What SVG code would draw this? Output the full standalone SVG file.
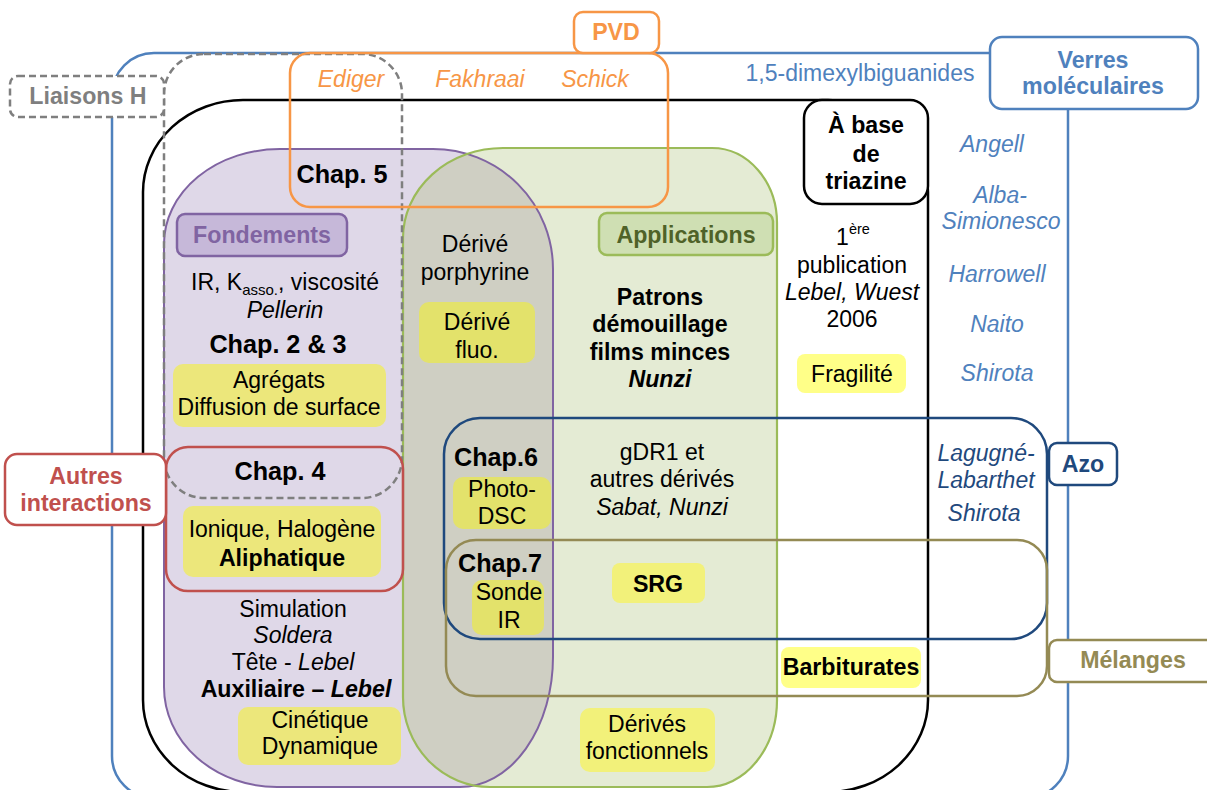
<svg xmlns="http://www.w3.org/2000/svg" width="1207" height="790" viewBox="0 0 1207 790">
  <defs>
    <style>
      text { font-family: "Liberation Sans", Arial, sans-serif; font-size: 23px; fill: #000; text-anchor: middle; }
      .b { font-weight: bold; font-size: 23.2px; }
      .i { font-style: italic; }
      .lbl { font-weight: bold; font-size: 23.2px; }
      .chap { font-weight: bold; font-size: 25.2px; }
      .reg { fill: none; stroke-width: 2.5; }
      .tag { fill: #fff; stroke-width: 2.5; }
      .yp { fill: #ece77b; }
      .yo { fill: #e3e26b; }
      .yg { fill: #f2f17a; }
      .yw { fill: #ffff88; }
      .blue { fill: #4f81bd; }
      .dblue { fill: #1f497d; }
      .orange { fill: #f79646; }
    </style>
    <path id="purpleShape" d="M 280 149 H 433 A 120 120 0 0 1 553 269 V 657 A 93 130 0 0 1 460 787 H 277 A 113 100 0 0 1 164 687 V 244 A 116 95 0 0 1 280 149 Z"/>
    <path id="greenShape" d="M 503 148 H 712 A 65 75 0 0 1 777 223 V 700 A 70 87 0 0 1 707 787 H 490 A 87 90 0 0 1 403 697 V 238 A 100 90 0 0 1 503 148 Z"/>
    <clipPath id="purpleClip"><use href="#purpleShape"/></clipPath>
  </defs>

  <rect width="1207" height="790" fill="#fff"/>

  <!-- outer families -->
  <g id="verres-region">
    <rect class="reg" x="112" y="53" width="956" height="745" rx="42" stroke="#4f81bd"/>
  </g>
  <g id="triazine-region">
    <rect class="reg" x="143" y="100" width="785" height="692" rx="100" ry="92" stroke="#000"/>
  </g>

  <!-- Fondements / Applications areas -->
  <g id="fondements-region">
    <use href="#purpleShape" fill="#dfd8e8"/>
  </g>
  <g id="applications-region">
    <use href="#greenShape" fill="#e4ebd4"/>
    <use href="#greenShape" fill="#cfcfc3" clip-path="url(#purpleClip)"/>
    <use href="#purpleShape" fill="none" stroke="#8064a2" stroke-width="2"/>
    <use href="#greenShape" fill="none" stroke="#9bbb59" stroke-width="2.2"/>
  </g>

  <g id="liaisons-region">
    <rect class="reg" x="164" y="54" width="238" height="444" rx="40" stroke="#7f7f7f" stroke-dasharray="7 4"/>
  </g>
  <g id="pvd-region">
    <rect class="reg" x="290" y="53" width="378" height="154" rx="20" stroke="#f79646"/>
  </g>
  <g id="autres-region">
    <rect class="reg" x="166" y="447" width="237" height="144" rx="22" stroke="#c0504d"/>
  </g>
  <g id="azo-region">
    <rect class="reg" x="444" y="418" width="603" height="221" rx="36" stroke="#1f497d"/>
  </g>
  <g id="melanges-region">
    <rect class="reg" x="446" y="540" width="601" height="156" rx="30" stroke="#948a54"/>
  </g>

  <!-- contents: Fondements -->
  <g id="fondements">
    <rect x="177" y="214" width="170" height="42" rx="8" fill="#c6b8d9" stroke="#8064a2" stroke-width="2.5"/>
    <text class="lbl" x="262" y="243" style="fill:#8064a2">Fondements</text>
    <text x="285" y="290">IR, K<tspan dy="5" font-size="15">asso.</tspan><tspan dy="-5">, viscosité</tspan></text>
    <text class="i" x="285" y="318">Pellerin</text>
    <text class="chap" x="278" y="353">Chap. 2 &amp; 3</text>
    <rect class="yp" x="173" y="364" width="213" height="63" rx="10"/>
    <text x="279" y="388">Agrégats</text>
    <text x="279" y="415">Diffusion de surface</text>
  </g>
  <g id="chap5">
    <text class="chap" x="342" y="183">Chap. 5</text>
  </g>
  <g id="chap4">
    <text class="chap" x="280" y="480">Chap. 4</text>
    <rect class="yp" x="183" y="506" width="198" height="71" rx="10"/>
    <text x="282" y="537">Ionique, Halogène</text>
    <text class="b" x="282" y="566">Aliphatique</text>
  </g>
  <g id="simulation">
    <text x="293" y="617">Simulation</text>
    <text class="i" x="293" y="643">Soldera</text>
    <text x="293" y="670">Tête - <tspan class="i">Lebel</tspan></text>
    <text class="b" x="296" y="697">Auxiliaire – <tspan class="i">Lebel</tspan></text>
    <rect class="yp" x="238" y="707" width="163" height="58" rx="10"/>
    <text x="320" y="728">Cinétique</text>
    <text x="320" y="754">Dynamique</text>
  </g>

  <!-- contents: overlap and Applications -->
  <g id="porphyrine">
    <text x="475" y="252">Dérivé</text>
    <text x="475" y="280">porphyrine</text>
    <rect class="yo" x="419" y="302" width="116" height="61" rx="10"/>
    <text x="477" y="330">Dérivé</text>
    <text x="477" y="358">fluo.</text>
  </g>
  <g id="applications">
    <rect x="599" y="213" width="174" height="42" rx="8" fill="#cfdfb3" stroke="#9bbb59" stroke-width="2.5"/>
    <text class="lbl" x="686" y="243" style="fill:#4f6228">Applications</text>
  </g>
  <g id="patrons">
    <text class="b" x="660" y="305">Patrons</text>
    <text class="b" x="660" y="332">démouillage</text>
    <text class="b" x="660" y="360">films minces</text>
    <text class="b i" x="660" y="387">Nunzi</text>
  </g>
  <g id="chap6">
    <text class="chap" x="496" y="466">Chap.6</text>
    <rect class="yo" x="453" y="477" width="98" height="52" rx="10"/>
    <text x="502" y="497">Photo-</text>
    <text x="502" y="524">DSC</text>
  </g>
  <g id="gdr1">
    <text x="662" y="460">gDR1 et</text>
    <text x="662" y="487">autres dérivés</text>
    <text class="i" x="662" y="515">Sabat, Nunzi</text>
  </g>
  <g id="chap7">
    <text class="chap" x="500" y="572">Chap.7</text>
    <rect class="yo" x="472" y="580" width="72" height="55" rx="10"/>
    <text x="509" y="600">Sonde</text>
    <text x="509" y="628">IR</text>
  </g>
  <g id="srg">
    <rect class="yg" x="612" y="563" width="93" height="40" rx="8"/>
    <text class="b" x="658" y="592">SRG</text>
  </g>
  <g id="derives-fonctionnels">
    <rect class="yg" x="580" y="708" width="135" height="64" rx="10"/>
    <text x="647" y="732">Dérivés</text>
    <text x="647" y="759">fonctionnels</text>
  </g>

  <!-- contents: triazine column -->
  <g id="publication">
    <text x="853" y="245">1<tspan dy="-11" font-size="14.5">ère</tspan></text>
    <text x="852" y="273">publication</text>
    <text class="i" x="852" y="300">Lebel, Wuest</text>
    <text x="852" y="327">2006</text>
  </g>
  <g id="fragilite">
    <rect class="yw" x="797" y="354" width="109" height="39" rx="8"/>
    <text x="852" y="382">Fragilité</text>
  </g>
  <g id="barbiturates">
    <rect class="yw" x="781" y="647" width="140" height="41" rx="8"/>
    <text class="b" x="851" y="675">Barbiturates</text>
  </g>

  <!-- names -->
  <g id="pvd-names">
    <text class="i orange" x="351" y="87">Ediger</text>
    <text class="i orange" x="480" y="87">Fakhraai</text>
    <text class="i orange" x="595" y="87">Schick</text>
  </g>
  <g id="verres-names">
    <text class="blue" x="860" y="81">1,5-dimexylbiguanides</text>
    <text class="i blue" x="992" y="152">Angell</text>
    <text class="i blue" x="1000" y="203">Alba-</text>
    <text class="i blue" x="1001" y="229">Simionesco</text>
    <text class="i blue" x="997" y="282">Harrowell</text>
    <text class="i blue" x="997" y="332">Naito</text>
    <text class="i blue" x="997" y="381">Shirota</text>
  </g>
  <g id="azo-names">
    <text class="i dblue" x="986" y="461">Lagugné-</text>
    <text class="i dblue" x="986" y="488">Labarthet</text>
    <text class="i dblue" x="984" y="521">Shirota</text>
  </g>

  <!-- family labels -->
  <g id="liaisons-h">
    <rect class="tag" x="10" y="76" width="154" height="41" rx="8" stroke="#7f7f7f" stroke-dasharray="7 4"/>
    <text class="lbl" x="88" y="104" style="fill:#7f7f7f">Liaisons H</text>
  </g>
  <g id="pvd">
    <rect class="tag" x="574" y="12" width="85" height="41" rx="9" stroke="#f79646"/>
    <text class="lbl orange" x="616" y="40">PVD</text>
  </g>
  <g id="verres-moleculaires">
    <rect class="tag" x="990" y="37" width="208" height="72" rx="12" stroke="#4f81bd"/>
    <text class="lbl blue" x="1093" y="68">Verres</text>
    <text class="lbl blue" x="1093" y="94">moléculaires</text>
  </g>
  <g id="triazine">
    <rect class="tag" x="804" y="100" width="124" height="104" rx="18" stroke="#000"/>
    <text class="lbl" x="866" y="133">À base</text>
    <text class="lbl" x="866" y="162">de</text>
    <text class="lbl" x="866" y="189">triazine</text>
  </g>
  <g id="autres-interactions">
    <rect class="tag" x="5" y="454" width="161" height="71" rx="12" stroke="#c0504d"/>
    <text class="lbl" x="86" y="484" style="fill:#c0504d">Autres</text>
    <text class="lbl" x="86" y="511" style="fill:#c0504d">interactions</text>
  </g>
  <g id="azo">
    <rect class="tag" x="1049" y="443" width="68" height="42" rx="8" stroke="#1f497d"/>
    <text class="lbl dblue" x="1083" y="472">Azo</text>
  </g>
  <g id="melanges">
    <rect class="tag" x="1049" y="640" width="175" height="42" rx="8" stroke="#948a54"/>
    <text class="lbl" x="1133" y="668" style="fill:#948a54">Mélanges</text>
  </g>
</svg>
